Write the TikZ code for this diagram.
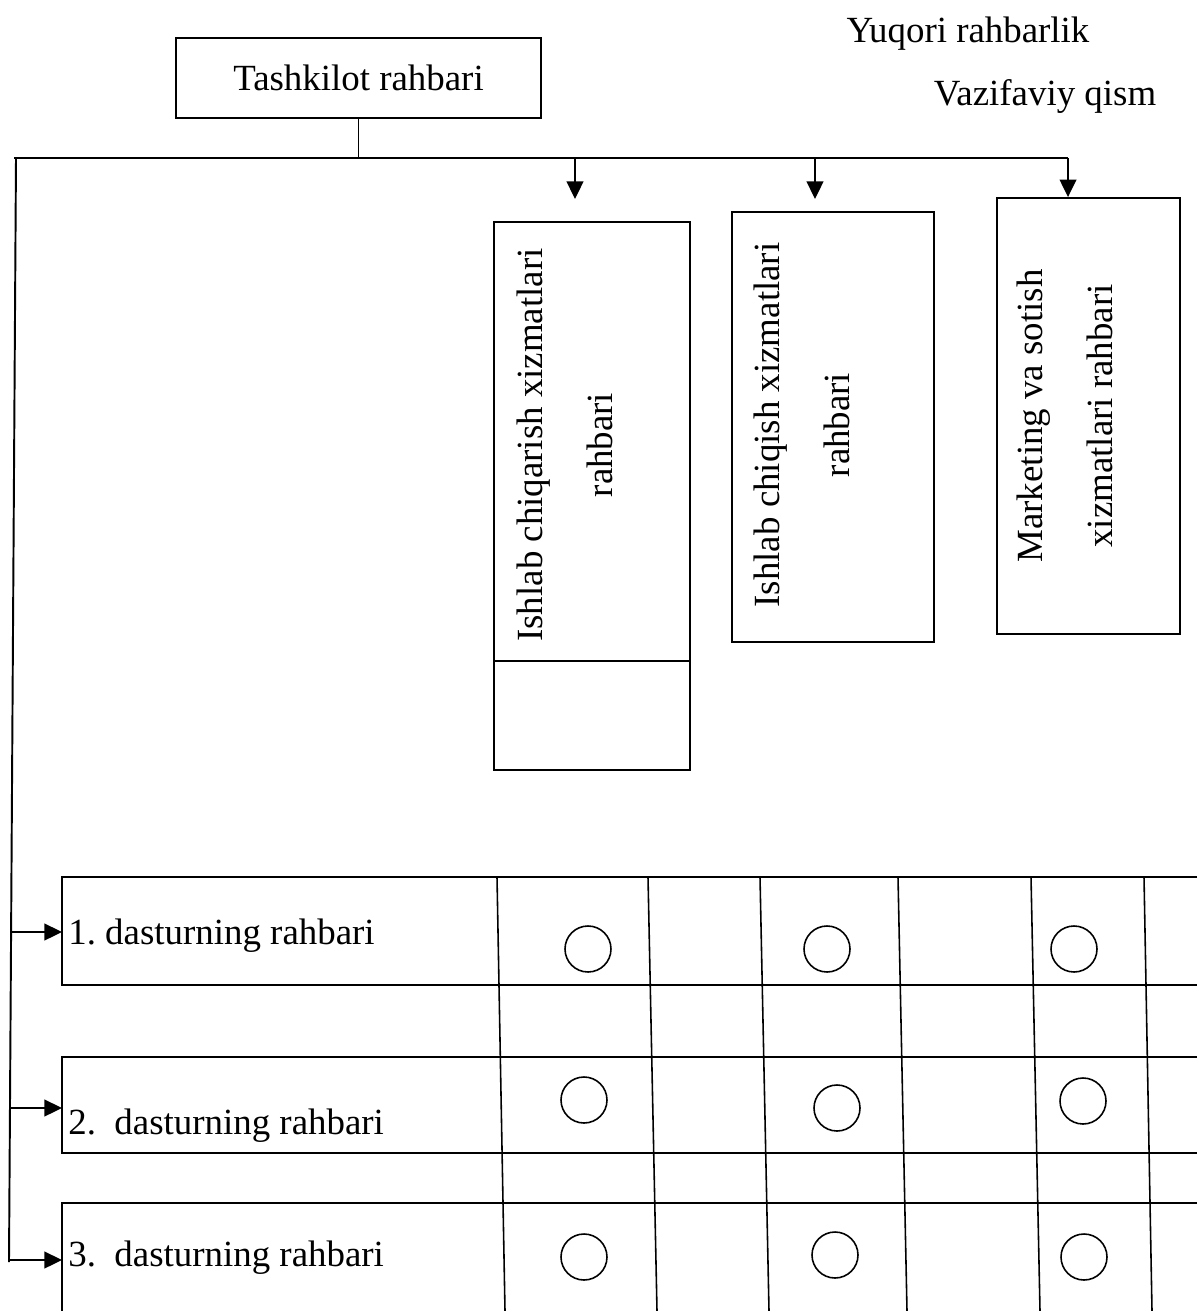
\documentclass[tikz,border=0pt]{standalone}
\usepackage{fontspec}
\setmainfont{Liberation Serif}
\usetikzlibrary{arrows.meta}
\begin{document}
\begin{tikzpicture}[x=0.02cm,y=-0.02cm,
  lw/.style={line width=1.1pt},
  boxx/.style={draw,lw,rectangle,inner sep=0pt},
  lbl/.style={font=\fontsize{21}{25}\selectfont,inner sep=0pt},
  vlbl/.style={font=\fontsize{21}{40}\selectfont,rotate=90,align=center,inner sep=0pt},
  arr/.style={lw,-{Triangle[length=10pt,width=9.5pt]}},
  gridline/.style={line width=0.9pt},
  dot/.style={circle,draw,line width=0.9pt,minimum size=0.92cm,inner sep=0pt}]
\useasboundingbox (0,0) rectangle (1197,1311);

% header labels
\node[lbl] (upper) at (968,34) {Yuqori rahbarlik};
\node[lbl] (func) at (1045,96) {Vazifaviy qism};

% head of the organisation
\node[boxx,minimum width=7.3cm,minimum height=1.6cm] (head) at (358.5,78) {};
\node[lbl] (headtxt) at (head.center) {Tashkilot rahbari};

% functional managers
\node[boxx,minimum width=3.92cm,minimum height=10.96cm] (b1) at (592,496) {};
\node[boxx,minimum width=4.04cm,minimum height=8.6cm] (b2) at (833,427) {};
\node[boxx,minimum width=3.66cm,minimum height=8.72cm] (b3) at (1088.5,416) {};
\draw[lw] (b1.west |- 0,661) -- (b1.east |- 0,661);
\node[vlbl] (t1) at (565,445) {Ishlab chiqarish xizmatlari\\rahbari};
\node[vlbl] (t2) at (802,425) {Ishlab chiqish xizmatlari\\rahbari};
\node[vlbl] (t3) at (1065,416) {Marketing va sotish\\xizmatlari rahbari};

% distribution bus
\coordinate (busL) at (14,158);
\coordinate (busR) at (1068,158);
\coordinate (spineEnd) at (9,1262);
\draw[lw] (busL) -- (busR);
\draw[lw] (head.south) -- (head.south |- busL);
\coordinate (a1) at (575,158);
\coordinate (a2) at (815,158);
\coordinate (a3) at (1068,158);
\coordinate (e1) at (575,199);
\coordinate (e2) at (815,199);
\draw[arr] (a1) -- (e1);
\draw[arr] (a2) -- (e2);
\draw[arr] (a3) -- (a3 |- b3.north);

% spine to the programme managers
\draw[lw] (16,158) -- (spineEnd);
\coordinate (r1) at (62,932);
\coordinate (r2) at (62,1108);
\coordinate (r3) at (62,1260);
\coordinate (s1) at (12,932);
\coordinate (s2) at (11,1108);
\coordinate (s3) at (9,1260);
\draw[arr] (s1) -- (r1);
\draw[arr] (s2) -- (r2);
\draw[arr] (s3) -- (r3);

% programme rows
\foreach \ya/\yb in {877/985,1057/1153}{
  \draw[lw] (1197,\ya) -- (62,\ya) -- (62,\yb) -- (1197,\yb);
}
\draw[lw] (1197,1203) -- (62,1203) -- (62,1311);

\node[lbl,anchor=west] (p1) at (68,936) {1.\ dasturning rahbari};
\node[lbl,anchor=west] (p2) at (68,1126) {2.\ \ dasturning rahbari};
\node[lbl,anchor=west] (p3) at (68,1258) {3.\ \ dasturning rahbari};

% matrix columns
\foreach \xa/\xb in {497/505,648/657,760/769,898/907,1031/1040,1144/1152}{
  \draw[gridline] (\xa,877) -- (\xb,1311);
}

% participation marks
\foreach \px/\py in {588/949,827/949,1074/949,584/1100,837/1108,1083/1101,584/1257,835/1255,1084/1257}{
  \node[dot] at (\px,\py) {};
}
\end{tikzpicture}
\end{document}
